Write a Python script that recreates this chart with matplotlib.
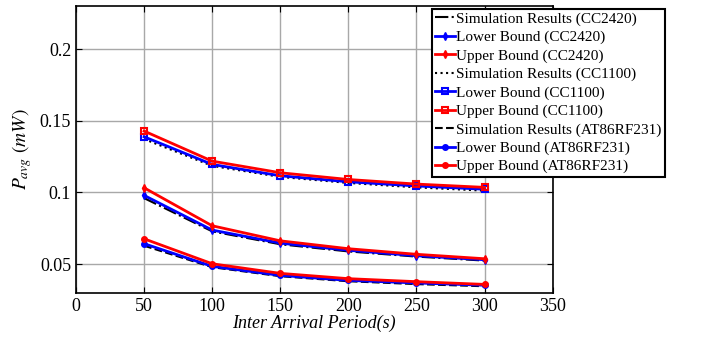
import numpy as np
import matplotlib
matplotlib.use('Agg')
from matplotlib import pyplot as plt

plt.rcParams['font.family'] = ['Liberation Serif', 'DejaVu Serif']
plt.rcParams['mathtext.fontset'] = 'stix'

period = [50, 100, 150, 200, 250, 300]

# CC2420
sim_cc2420 = [0.0960, 0.0728, 0.0638, 0.0588, 0.0552, 0.0524]
low_cc2420 = [0.0979, 0.0737, 0.0646, 0.0596, 0.0558, 0.0530]
up_cc2420 = [0.1032, 0.0767, 0.0662, 0.0607, 0.0568, 0.0537]

# CC1100
sim_cc1100 = [0.1372, 0.1185, 0.1108, 0.1066, 0.1035, 0.1012]
low_cc1100 = [0.1388, 0.1195, 0.1116, 0.1074, 0.1045, 0.1022]
up_cc1100 = [0.1428, 0.1218, 0.1137, 0.1090, 0.1058, 0.1035]

# AT86RF231
sim_at86 = [0.0628, 0.0478, 0.0415, 0.0380, 0.0360, 0.0345]
low_at86 = [0.0642, 0.0484, 0.0421, 0.0386, 0.0368, 0.0352]
up_at86 = [0.0676, 0.0502, 0.0435, 0.0398, 0.0377, 0.0358]

fig = plt.figure(figsize=(7.04, 3.38), dpi=100)
ax = fig.add_axes([0.108, 0.134, 0.677, 0.848])

ms = 4
ax.plot(period, sim_cc2420, color='black', ls='-.', lw=1.5, label='Simulation Results (CC2420)')
ax.plot(period, low_cc2420, color='blue', marker='d', ms=ms, lw=2, label='Lower Bound (CC2420)')
ax.plot(period, up_cc2420, color='red', marker='d', ms=ms, lw=2, label='Upper Bound (CC2420)')
ax.plot(period, sim_cc1100, color='black', ls=':', lw=1.5, label='Simulation Results (CC1100)')
ax.plot(period, low_cc1100, color='blue', marker='s', ms=ms, mfc='none', mew=1.5, lw=2, label='Lower Bound (CC1100)')
ax.plot(period, up_cc1100, color='red', marker='s', ms=ms, mfc='none', mew=1.5, lw=2, label='Upper Bound (CC1100)')
ax.plot(period, sim_at86, color='black', ls='--', lw=1.5, label='Simulation Results (AT86RF231)')
ax.plot(period, low_at86, color='blue', marker='o', ms=ms, lw=2, label='Lower Bound (AT86RF231)')
ax.plot(period, up_at86, color='red', marker='o', ms=ms, lw=2, label='Upper Bound (AT86RF231)')

ax.set_xlim(0, 350)
ax.set_ylim(0.03, 0.23)
ax.set_xticks(np.arange(0, 351, 50))
ax.set_yticks([0.05, 0.1, 0.15, 0.2])
ax.set_yticklabels(['0.05', '0.1', '0.15', '0.2'])
ax.grid(True, color='#a8a8a8', lw=1)
ax.tick_params(direction='in', labelsize=13, top=True, right=True, length=4)
for sp in ax.spines.values():
    sp.set_linewidth(1.2)

ax.set_xlabel('Inter Arrival Period(s)', fontsize=13, style='italic', labelpad=0)
ax.set_ylabel(r'$P_{avg}\ (mW)$', fontsize=14, labelpad=4)

leg = ax.legend(loc='upper right', bbox_to_anchor=(1.235, 0.99), fontsize=11,
                frameon=True, fancybox=False, edgecolor='black', framealpha=1,
                handlelength=1.3, handletextpad=0.1, borderpad=0.2, labelspacing=0.3,
                borderaxespad=0)
leg.get_frame().set_linewidth(1.5)

plt.savefig('out.png', dpi=100)
